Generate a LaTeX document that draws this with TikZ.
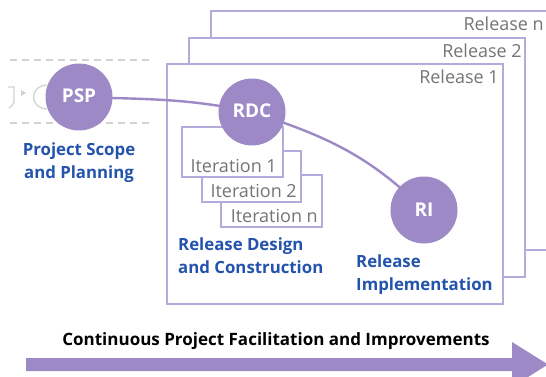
\documentclass[tikz,border=0pt]{standalone}
\usepackage{fontspec}
\setmainfont{Open Sans}
\definecolor{circ}{HTML}{9D89C6}
\definecolor{boxline}{HTML}{B6A9DC}
\definecolor{lblue}{HTML}{2353AD}
\definecolor{gtext}{HTML}{757575}
\definecolor{dgray}{HTML}{D2D2D2}
\tikzset{
  phase/.style={circle, fill=circ, minimum size=67pt, inner sep=0pt, text=white, font=\bfseries\fontsize{19}{20}\selectfont},
  relbox/.style={draw=boxline, line width=1.6pt, fill=white},
  itbox/.style={draw=boxline, line width=1.4pt, fill=white},
  gray label/.style={text=gtext, inner sep=0pt, font=\fontsize{18}{20}\selectfont},
  blue label/.style={text=lblue, inner sep=0pt, align=left, font=\bfseries\fontsize{16.8}{22.5}\selectfont},
  flow/.style={draw=circ, line width=2.4pt},
}
\begin{document}
\begin{tikzpicture}[x=1pt,y=-1pt]
\useasboundingbox (0,0) rectangle (546,377);
\begin{scope}
\clip (0,0) rectangle (546,377);
% faded predecessor
\draw[dgray, line width=1.3pt] (8,87) -- (14,87) -- (14,100) .. controls (14,104) and (12,106) .. (9,108);
\fill[dgray] (21,90) -- (26,93) -- (21,96) -- cycle;
\draw[dgray, line width=1.3pt] (47,85) .. controls (29,86) and (29,108) .. (47,109);
\draw[dgray, line width=1.8pt, dash pattern=on 7pt off 5pt] (10,60) -- (152,60);
\draw[dgray, line width=1.8pt, dash pattern=on 7pt off 5pt] (10,123) -- (152,123);
% release boxes
\draw[relbox] (211,11) rectangle (570,250);
\node[gray label, anchor=base east] (reln) at (544,31) {Release n};
\draw[relbox] (189,38) rectangle (525,277);
\node[gray label, anchor=base east] (rel2) at (522,58) {Release 2};
\draw[relbox] (167,64) rectangle (503,304);
\node[gray label, anchor=base east] (rel1) at (499,84) {Release 1};
% iteration boxes
\draw[itbox] (221,175) rectangle (322,227);
\node[gray label, anchor=base east] (itn) at (318,222) {Iteration n};
\draw[itbox] (202,151) rectangle (301,202);
\node[gray label, anchor=base east] (it2) at (297,197) {Iteration 2};
\draw[itbox] (182,127) rectangle (283,177);
\node[gray label, anchor=base east] (it1) at (277,172) {Iteration 1};
% phases
\coordinate (pspc) at (79,97);
\coordinate (rdcc) at (252,112);
\coordinate (ric) at (424,210);
\draw[flow] (pspc) to[out=-2,in=168] (rdcc) to[out=-18,in=135] (ric);
\node[phase] (psp) at (pspc) {\raisebox{3pt}{PSP}};
\node[phase] (rdc) at (rdcc) {\raisebox{3pt}{RDC}};
\node[phase] (ri) at (ric) {RI};
% labels
\node[blue label, anchor=base, align=center] (l1) at (79,178) {Project Scope\\and Planning};
\node[blue label, anchor=base west] (l2) at (178,273) {Release Design\\and Construction};
\node[blue label, anchor=base west] (l3) at (356,290) {Release\\Implementation};
% bottom arrow
\node[inner sep=0pt, anchor=base, font=\bfseries\fontsize{17}{18}\selectfont] (cont) at (276,345) {Continuous Project Facilitation and Improvements};
\fill[circ] (26,358) -- (512,358) -- (512,342) -- (548,364.5) -- (512,387) -- (512,371) -- (26,371) -- cycle;
\end{scope}
\end{tikzpicture}
\end{document}
